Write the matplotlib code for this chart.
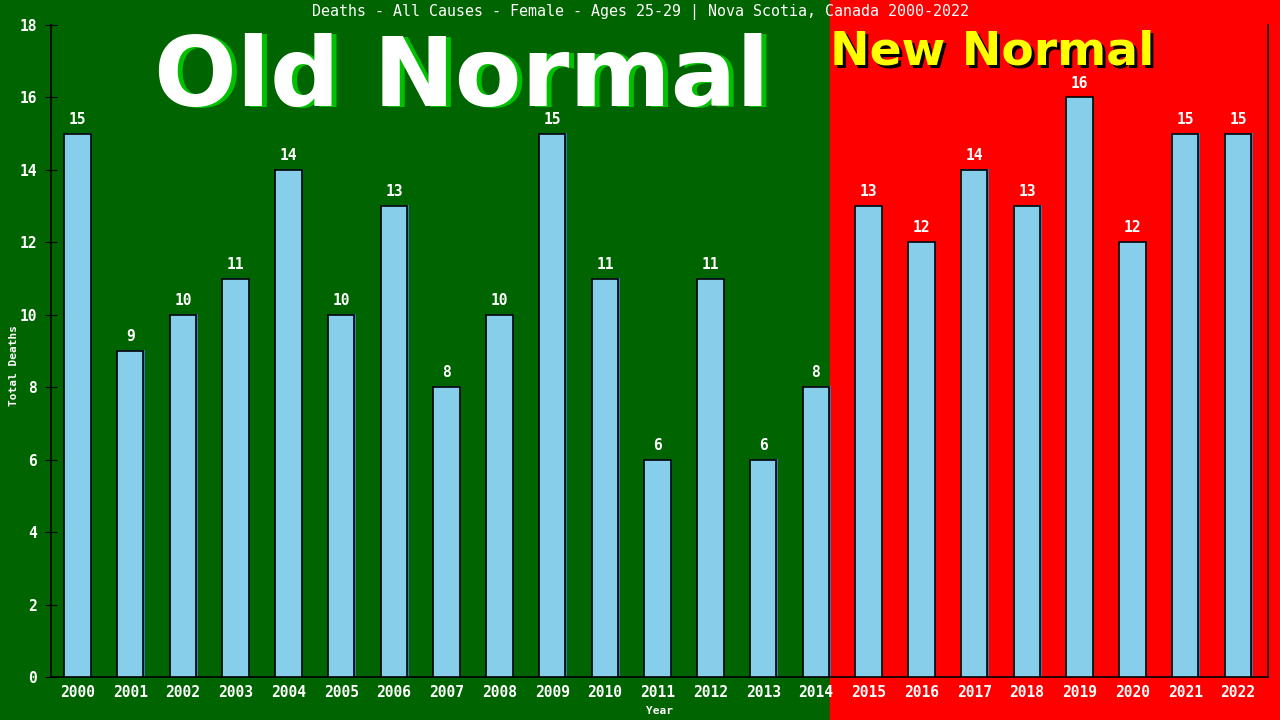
import matplotlib
matplotlib.use("Agg")
import matplotlib.pyplot as plt
import matplotlib.transforms as mtransforms
from matplotlib.patches import Rectangle

years = list(range(2000, 2023))
deaths = [15, 9, 10, 11, 14, 10, 13, 8, 10, 15, 11, 6, 11, 6, 8,
          13, 12, 14, 13, 16, 12, 15, 15]
title = "Deaths - All Causes - Female - Ages 25-29 | Nova Scotia, Canada 2000-2022"

GREEN = "#006400"
RED = "#ff0000"
BAR = "#87ceeb"
MONO = "DejaVu Sans Mono"
BANNER = "DejaVu Sans"

fig = plt.figure(figsize=(12.8, 7.2), dpi=100, facecolor=GREEN)
# red "new normal" half of the background
fig.patches.append(Rectangle((830 / 1280, 0), 1 - 830 / 1280, 1,
                             transform=fig.transFigure, color=RED, zorder=-5))

ax = fig.add_axes([51 / 1280, 43 / 720, 1217 / 1280, 652 / 720])
ax.set_facecolor("none")
ax.set_xlim(-0.5, 22.57)
ax.set_ylim(0, 18)

x = list(range(len(years)))
# thin blue shadow behind each bar
shadow = mtransforms.offset_copy(ax.transData, fig=fig, x=1.5, y=0.8, units="dots")
ax.bar(x, deaths, width=0.5, color="#3a7ab0", transform=shadow, zorder=2)
ax.bar(x, deaths, width=0.5, color=BAR, edgecolor="black", linewidth=1.2, zorder=3)

for xi, v in zip(x, deaths):
    ax.annotate(str(v), (xi, v), xytext=(0, 5), textcoords="offset points",
                ha="center", va="bottom", color="white", fontsize=10.5,
                family=MONO, fontweight="bold")

ax.set_xticks(x)
ax.set_xticklabels([str(y) for y in years])
ax.set_yticks(range(0, 19, 2))
ax.tick_params(axis="x", colors="black", labelcolor="white", length=0, pad=6,
               labelsize=10.5)
ax.tick_params(axis="y", colors="black", labelcolor="white", direction="inout",
               length=8, labelsize=10.5, pad=6)
for lab in ax.get_xticklabels() + ax.get_yticklabels():
    lab.set_family(MONO)
    lab.set_fontweight("bold")

ax.spines["top"].set_visible(False)
for s in ("left", "bottom", "right"):
    ax.spines[s].set_color("black")
    ax.spines[s].set_linewidth(1.2)

ax.set_xlabel("Year", color="white", fontsize=8, family=MONO, fontweight="bold",
              labelpad=4)
ax.set_ylabel("Total Deaths", color="white", fontsize=8, family=MONO,
              fontweight="bold")
ax.yaxis.set_label_coords(-0.026, 0.478)

fig.text(0.5, 0.983, title, ha="center", va="center", color="white",
         fontsize=10.8, family=MONO)

# big banner texts with drop shadows
old_sh = mtransforms.offset_copy(fig.transFigure, fig=fig, x=5, y=-1, units="dots")
fig.text(462 / 1280, 1 - 79 / 720, "Old Normal", transform=old_sh, ha="center",
         va="center", fontsize=70, fontweight="bold", family=BANNER,
         color="#00c000")
fig.text(462 / 1280, 1 - 79 / 720, "Old Normal", ha="center", va="center",
         fontsize=70, fontweight="bold", family=BANNER, color="white")

new_sh = mtransforms.offset_copy(fig.transFigure, fig=fig, x=3, y=-3, units="dots")
fig.text(830 / 1280, 1 - 52 / 720, "New Normal", transform=new_sh, ha="left",
         va="center", fontsize=34, fontweight="bold", family=BANNER,
         color="black")
fig.text(830 / 1280, 1 - 52 / 720, "New Normal", ha="left", va="center",
         fontsize=34, fontweight="bold", family=BANNER, color="#ffff00")

fig.savefig("out.png", dpi=100, facecolor=GREEN)
